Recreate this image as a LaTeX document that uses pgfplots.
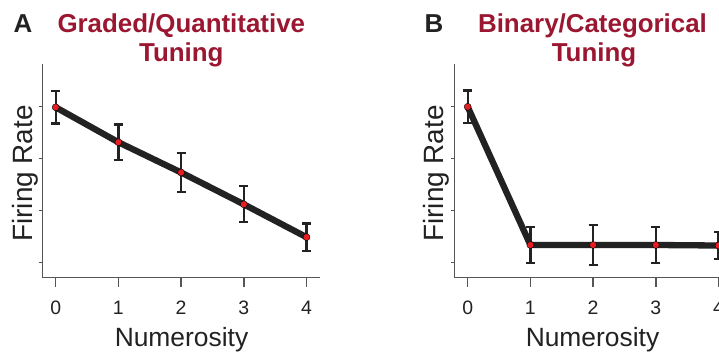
\documentclass[border=0pt]{standalone}
\usepackage{pgfplots}
\pgfplotsset{compat=1.18}
\usepackage{fontspec}
\setmainfont{Liberation Sans}
\definecolor{titlered}{RGB}{155,22,48}
\definecolor{axgray}{RGB}{85,85,85}
\definecolor{lineblack}{RGB}{34,34,34}
\definecolor{dotred}{RGB}{230,30,35}
\pgfplotsset{
  panel/.style={
    scale only axis, width=277.3bp, height=213.7bp,
    anchor=south west,
    axis lines=left,
    axis line style={-, draw=axgray, line width=1.4bp},
    xmin=-0.207, xmax=4.215, ymin=-0.287, ymax=3.81,
    xtick={0,1,2,3,4}, ytick={0,1,2,3}, yticklabels={},
    tick align=outside,
    major tick length=9bp,
    tick style={draw=axgray, line width=1.4bp},
    ytick style={/pgfplots/major tick length=4bp},
    /pgf/number format/assume math mode=true,
    xticklabel style={font=\fontsize{19.5}{21}\selectfont, text=lineblack, anchor=base, yshift=-28bp},
    clip=false,
  },
  dataline/.style={draw=lineblack, line width=6.3bp, line join=round, no marks,
    error bars/.cd, y dir=both, y explicit,
    error bar style={line width=2.3bp, draw=lineblack},
    error mark options={rotate=90, mark size=4.5bp, line width=2.3bp, draw=lineblack}},
  dots/.style={only marks, mark=*, mark size=3.5bp, mark options={fill=dotred, draw=none}},
}
\begin{document}
\begin{tikzpicture}
\begin{axis}[panel, at={(42.7bp,74.3bp)}]
\addplot[dataline] coordinates {(0,2.98) +- (0,0.31) (1,2.31) +- (0,0.34) (2,1.73) +- (0,0.38) (3,1.12) +- (0,0.345) (4,0.49) +- (0,0.26)};
\addplot[dots] coordinates {(0,2.98) (1,2.31) (2,1.73) (3,1.12) (4,0.49)};
\end{axis}
\begin{axis}[panel, at={(454.7bp,74.3bp)}]
\addplot[dataline] coordinates {(0,2.99) +- (0,0.31) (1,0.34) +- (0,0.34) (2,0.34) +- (0,0.39) (3,0.34) +- (0,0.34) (4,0.33) +- (0,0.26)};
\addplot[dots] coordinates {(0,2.99) (1,0.34) (2,0.34) (3,0.34) (4,0.33)};
\end{axis}
% titles and labels
\begin{scope}[every node/.style={inner sep=0pt}]
\node[anchor=base west, font=\fontsize{26}{28}\selectfont\bfseries, text=lineblack] at (13.5bp,319bp) {A};
\node[anchor=base west, font=\fontsize{26}{28}\selectfont\bfseries, text=lineblack] at (424.5bp,319bp) {B};
\node[anchor=base, font=\fontsize{26}{28}\selectfont\bfseries, text=titlered] at (181.3bp,319bp) {Graded/Quantitative};
\node[anchor=base, font=\fontsize{26}{28}\selectfont\bfseries, text=titlered] at (181.3bp,290bp) {Tuning};
\node[anchor=base, font=\fontsize{26}{28}\selectfont\bfseries, text=titlered] at (592.5bp,319bp) {Binary/Categorical};
\node[anchor=base, font=\fontsize{26}{28}\selectfont\bfseries, text=titlered] at (594bp,290bp) {Tuning};
\node[anchor=base, font=\fontsize{26.5}{28}\selectfont, text=lineblack] at (181.5bp,5.3bp) {Numerosity};
\node[anchor=base, font=\fontsize{26.5}{28}\selectfont, text=lineblack] at (592.5bp,5.3bp) {Numerosity};
\node[anchor=base, rotate=90, font=\fontsize{28}{30}\selectfont, text=lineblack] at (32bp,178.6bp) {Firing Rate};
\node[anchor=base, rotate=90, font=\fontsize{28}{30}\selectfont, text=lineblack] at (443.5bp,178.6bp) {Firing Rate};
\end{scope}
\pgfresetboundingbox
\useasboundingbox (0,0) rectangle (719bp,352bp);
\end{tikzpicture}
\end{document}
